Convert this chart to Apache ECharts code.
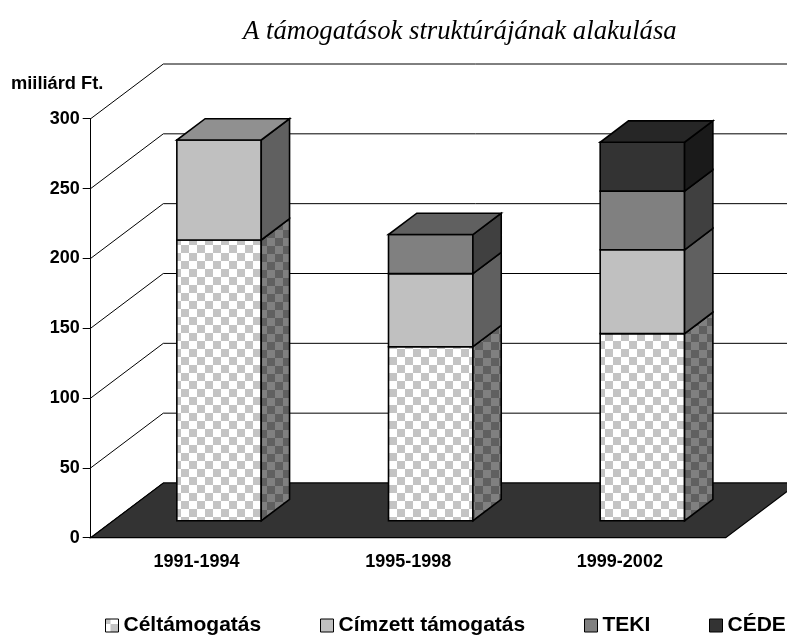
<!DOCTYPE html>
<html>
<head>
<meta charset="utf-8">
<style>
  html, body { margin: 0; padding: 0; background: #fff; }
  #chart { width: 787px; height: 635px; }
</style>
<script src="https://cdn.jsdelivr.net/npm/echarts@6/dist/echarts.min.js"></script>
</head>
<body>
<div id="chart"></div>
<script>
const categories = ['1991-1994', '1995-1998', '1999-2002']
const yTicks = [0, 50, 100, 150, 200, 250, 300]

const seriesNames = ['Céltámogatás', 'Címzett támogatás', 'TEKI', 'CÉDE']
const celtamogatas = [201, 124.6, 134]
const cimzett = [71.6, 52.3, 60]
const teki = [0, 28, 42]
const cede = [0, 0, 35]
const seriesValues = [celtamogatas, cimzett, teki, cede]

// az "álló" 3D doboz mélysége pixelben
const depthX = 72.6
const depthY = 54.7
const barOffset = 0.31
const barDepth = 0.39
const barWidth = 84.4

const labelFont = 'Liberation Sans'

const makeChecker = (light, dark, phaseX, phaseY) => {
  const canvas = document.createElement('canvas')
  canvas.width = 16
  canvas.height = 16
  const ctx = canvas.getContext('2d')
  ctx.fillStyle = light
  ctx.fillRect(0, 0, 16, 16)
  ctx.fillStyle = dark
  // a minta a 16 px-es csempén körbefordul
  for (let dx = -16; dx <= 0; dx += 16) {
    for (let dy = -16; dy <= 0; dy += 16) {
      ctx.fillRect(phaseX + dx, phaseY + dy, 8, 8)
      ctx.fillRect(phaseX + dx + 8, phaseY + dy + 8, 8, 8)
      ctx.fillRect(phaseX + dx + 16, phaseY + dy, 8, 8)
      ctx.fillRect(phaseX + dx, phaseY + dy + 16, 8, 8)
      ctx.fillRect(phaseX + dx + 16, phaseY + dy + 16, 8, 8)
    }
  }
  return { image: canvas, repeat: 'repeat' }
}

const faceColors = [
  { front: makeChecker('#ffffff', '#c4c4c4', 5, 5), side: makeChecker('#808080', '#606060', 11, 6), top: '#909090' },
  { front: '#c0c0c0', side: '#606060', top: '#909090' },
  { front: '#808080', side: '#404040', top: '#606060' },
  { front: '#333333', side: '#1a1a1a', top: '#262626' }
]

const stackedBelow = (seriesIndex, dataIndex) => {
  let sum = 0
  for (let i = 0; i < seriesIndex; i++) sum += seriesValues[i][dataIndex]
  return sum
}

const isTopSegment = (seriesIndex, dataIndex) => {
  for (let i = seriesIndex + 1; i < seriesValues.length; i++) {
    if (seriesValues[i][dataIndex] > 0) return false
  }
  return true
}

const polygon = (points, fill) => ({
  type: 'polygon',
  shape: { points },
  style: { fill, stroke: '#000', lineWidth: 1.6, lineJoin: 'miter' }
})

const renderBarSegment = seriesIndex => (params, api) => {
  const dataIndex = api.value(0)
  const value = api.value(1)
  if (!value) return null

  const below = stackedBelow(seriesIndex, dataIndex)
  const start = api.coord([dataIndex, below])
  const end = api.coord([dataIndex, below + value])

  const shiftX = depthX * barOffset
  const shiftY = depthY * barOffset
  const backX = depthX * barDepth
  const backY = depthY * barDepth

  const x0 = start[0] - barWidth / 2 + shiftX
  const x1 = x0 + barWidth
  const y0 = start[1] - shiftY
  const y1 = end[1] - shiftY
  const colors = faceColors[seriesIndex]

  const children = [
    polygon([[x0, y0], [x1, y0], [x1, y1], [x0, y1]], colors.front),
    polygon([[x1, y0], [x1 + backX, y0 - backY], [x1 + backX, y1 - backY], [x1, y1]], colors.side)
  ]
  if (isTopSegment(seriesIndex, dataIndex)) {
    children.push(polygon([[x0, y1], [x1, y1], [x1 + backX, y1 - backY], [x0 + backX, y1 - backY]], colors.top))
  }
  return { type: 'group', children }
}

const renderFloor = (params, api) => {
  const left = params.coordSys.x
  const right = left + params.coordSys.width
  const y = api.coord([0, 0])[1]
  return {
    type: 'polygon',
    shape: { points: [[left, y], [right, y], [right + depthX, y - depthY], [left + depthX, y - depthY]] },
    style: { fill: '#333333', stroke: '#000', lineWidth: 1.2 }
  }
}

const renderWallLine = (params, api) => {
  const left = params.coordSys.x
  const right = left + params.coordSys.width
  const y = api.coord([0, api.value(1)])[1]
  return {
    type: 'polyline',
    shape: { points: [[left, y], [left + depthX, y - depthY], [right + depthX, y - depthY]] },
    style: { fill: 'none', stroke: '#000', lineWidth: 1 }
  }
}

const legendLefts = [105, 320, 584, 709]

const option = {
  animation: false,
  backgroundColor: '#fff',
  title: [
    {
      text: 'A támogatások struktúrájának alakulása',
      left: 243,
      top: 18,
      padding: 0,
      textStyle: { fontFamily: 'Liberation Serif', fontStyle: 'italic', fontWeight: 'normal', fontSize: 26.7, color: '#000' }
    },
    {
      text: 'miiliárd Ft.',
      left: 11,
      top: 75,
      padding: 0,
      textStyle: { fontFamily: labelFont, fontWeight: 'bold', fontSize: 18.3, color: '#000' }
    }
  ],
  grid: { left: 90.7, right: 61.3, top: 118.7, bottom: 97.3 },
  xAxis: {
    type: 'category',
    data: categories,
    axisLine: { lineStyle: { color: '#000', width: 1 } },
    axisTick: { length: 8, lineStyle: { color: '#000' } },
    axisLabel: { color: '#000', fontFamily: labelFont, fontWeight: 'bold', fontSize: 18, margin: 15 }
  },
  yAxis: {
    type: 'value',
    min: 0,
    max: 300,
    interval: 50,
    splitLine: { show: false },
    axisLine: { show: true, lineStyle: { color: '#000', width: 1 } },
    axisTick: { show: true, length: 8, lineStyle: { color: '#000' } },
    axisLabel: { color: '#000', fontFamily: labelFont, fontWeight: 'bold', fontSize: 18, margin: 11 }
  },
  legend: seriesNames.map((name, i) => ({
    data: [{ name, icon: 'rect', itemStyle: { color: faceColors[i].front, borderColor: '#000', borderWidth: 1 } }],
    left: legendLefts[i],
    top: 615,
    padding: 0,
    itemWidth: 13,
    itemHeight: 13,
    selectedMode: false,
    textStyle: { color: '#000', fontFamily: labelFont, fontWeight: 'bold', fontSize: 21 }
  })),
  series: [
    { type: 'custom', name: 'fal', z: 1, renderItem: renderWallLine, encode: { x: 0, y: 1 }, data: yTicks.map(v => [0, v]), silent: true },
    { type: 'custom', name: 'padló', z: 1, renderItem: renderFloor, data: [0], silent: true }
  ].concat(seriesNames.map((name, i) => ({
    type: 'custom',
    name,
    z: 2 + i,
    renderItem: renderBarSegment(i),
    encode: { x: 0, y: 1 },
    itemStyle: { color: '#000' },
    data: seriesValues[i].map((v, k) => [k, v]),
    silent: true
  })))
}

const myChart = echarts.init(document.getElementById('chart'), null, { renderer: 'canvas' })
myChart.setOption(option)
</script>
</body>
</html>
